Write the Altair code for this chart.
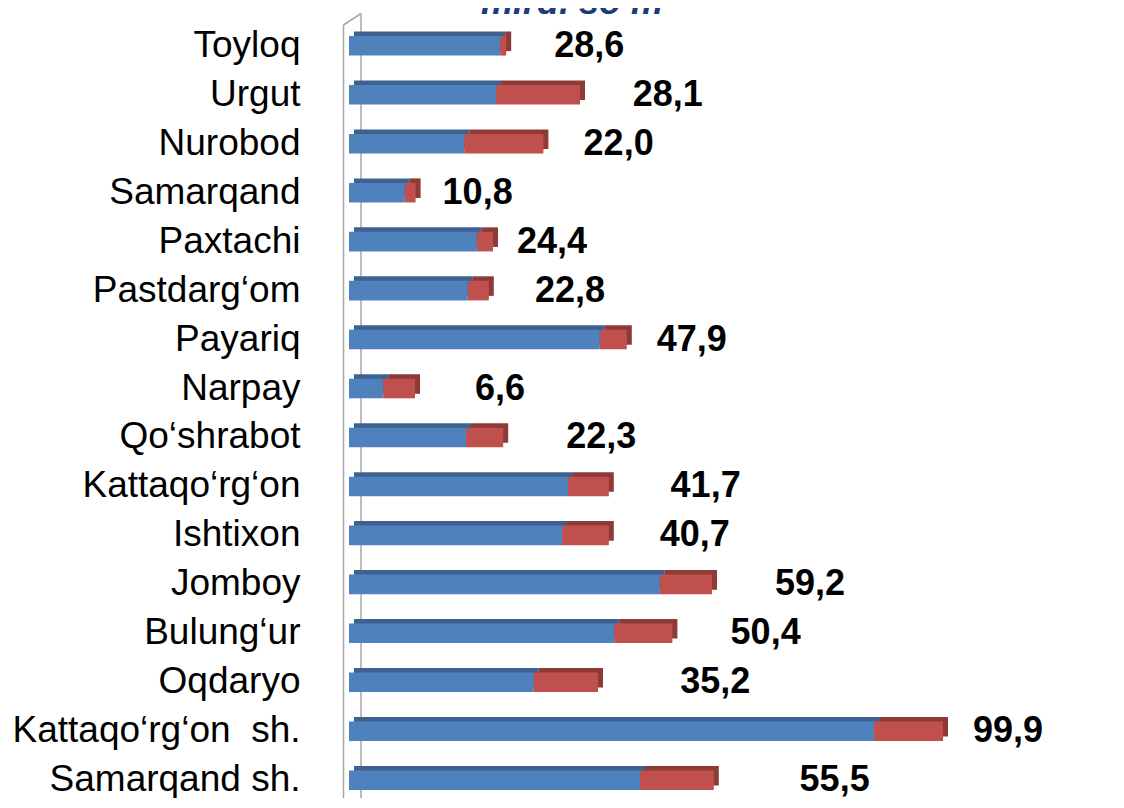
import altair as alt
import pandas as pd

regions = ["Toyloq", "Urgut", "Nurobod", "Samarqand", "Paxtachi", "Pastdarg‘om",
           "Payariq", "Narpay", "Qo‘shrabot", "Kattaqo‘rg‘on", "Ishtixon", "Jomboy",
           "Bulung‘ur", "Oqdaryo", "Kattaqo‘rg‘on\u00a0 sh.", "Samarqand sh."]
blue_vals = [25.2, 24.5, 19.2, 9.3, 21.3, 19.8, 41.8, 5.7, 19.5, 36.5, 35.5, 51.8,
             44.2, 30.8, 87.5, 48.5]
red_vals = [1.0, 14.0, 13.2, 1.8, 2.7, 3.5, 4.5, 5.3, 6.2, 6.8, 7.8, 8.7,
            9.7, 10.7, 11.5, 12.3]
label_vals = [28.6, 28.1, 22.0, 10.8, 24.4, 22.8, 47.9, 6.6, 22.3, 41.7, 40.7, 59.2,
              50.4, 35.2, 99.9, 55.5]
# hidden spacer series (transparent), sets where the value labels sit
spacer_vals = [8.0, 8.8, 6.7, 4.5, 4.0, 7.7, 5.0, 10.0, 10.5, 10.3, 8.5, 10.5,
               9.7, 13.7, 5.0, 14.3]
unit_title = "mlrd. so‘m"

blue_df = pd.DataFrame({"region": regions, "start": [0.0] * len(regions), "end": blue_vals})
red_df = pd.DataFrame({"region": regions, "start": blue_vals,
                       "end": [b + r for b, r in zip(blue_vals, red_vals)]})
labels = pd.DataFrame({
    "region": regions,
    "pos": [b + rd + s for b, rd, s in zip(blue_vals, red_vals, spacer_vals)],
    "txt": [f"{v:.1f}".replace(".", ",") for v in label_vals],
})
base_df = pd.DataFrame({"x0": [0.0], "ttl": [unit_title]})

FONT = "Liberation Sans"

xscale = alt.Scale(domain=[0, 120], nice=False, zero=True)
yenc = alt.Y("region:N", sort=regions,
             scale=alt.Scale(paddingInner=0.6, paddingOuter=0),
             axis=alt.Axis(title=None, ticks=False, domain=False, grid=False,
                           labelFontSize=37, labelFont=FONT, labelColor="black",
                           labelPadding=49, labelLimit=500))


def bar_layer(df, color, back=False):
    if back:
        mk = alt.Chart(df).mark_bar(color=color, xOffset=5, x2Offset=5,
                                    yOffset=-4.5, y2Offset=-4.5)
    else:
        mk = alt.Chart(df).mark_bar(color=color)
    return mk.encode(
        x=alt.X("start:Q", scale=xscale, axis=None),
        x2="end:Q",
        y=yenc,
    )


back_blue = bar_layer(blue_df, "#3d6292", back=True)
back_red = bar_layer(red_df, "#8e3a37", back=True)
front_blue = bar_layer(blue_df, "#4f81bd")
front_red = bar_layer(red_df, "#c0504d")

text = alt.Chart(labels).mark_text(align="left", baseline="middle", font=FONT,
                                   fontWeight="bold", fontSize=36, color="black").encode(
    x=alt.X("pos:Q", scale=xscale, axis=None),
    y=yenc,
    text="txt:N",
)

wall_left = alt.Chart(base_df).mark_rule(color="#a6a6a6", strokeWidth=1.5, xOffset=-5.5).encode(
    x=alt.X("x0:Q", scale=xscale, axis=None), y=alt.value(-11), y2=alt.value(770))
wall_right = alt.Chart(base_df).mark_rule(color="#a6a6a6", strokeWidth=1.5, xOffset=12).encode(
    x=alt.X("x0:Q", scale=xscale, axis=None), y=alt.value(-22.5), y2=alt.value(770))
wall_top = alt.Chart(base_df).mark_rule(color="#a6a6a6", strokeWidth=1.5,
                                        xOffset=-5.5, x2Offset=12).encode(
    x=alt.X("x0:Q", scale=xscale, axis=None), x2="x0:Q",
    y=alt.value(-11), y2=alt.value(-22.5))

title = alt.Chart(base_df).mark_text(align="center", baseline="alphabetic",
                                     font=FONT, fontSize=36, fontWeight="bold",
                                     fontStyle="italic", color="#1f3b7a").encode(
    x=alt.value(223), y=alt.value(-22), text="ttl:N")

chart = alt.layer(wall_left, wall_right, wall_top, back_blue, back_red,
                  front_blue, front_red, text, title).properties(
    width=720, height=754,
    autosize=alt.AutoSizeParams(type="none"),
    padding={"left": 341, "top": 28, "right": 10, "bottom": 8},
).configure_view(stroke=None)

chart.save("out.html", embed_options={"renderer": "svg", "actions": False})
